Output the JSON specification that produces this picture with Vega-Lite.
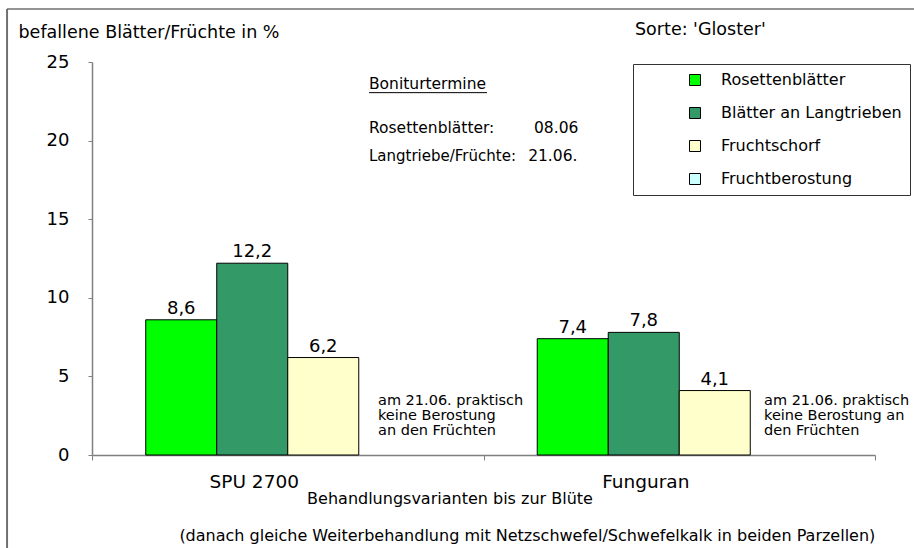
{
  "$schema": "https://vega.github.io/schema/vega-lite/v6.json",
  "width": 783,
  "height": 393,
  "autosize": {"type": "none"},
  "padding": {"left": 92, "top": 62, "right": 39, "bottom": 93},
  "background": "white",
  "config": {
    "font": "DejaVu Sans",
    "view": {"stroke": null},
    "locale": {"number": {"decimal": ",", "thousands": ".", "grouping": [3], "currency": ["", " €"]}}
  },
  "data": {
    "values": [
      {"variante": "SPU 2700", "sorte": "Rosettenblätter", "wert": 8.6},
      {"variante": "SPU 2700", "sorte": "Blätter an Langtrieben", "wert": 12.2},
      {"variante": "SPU 2700", "sorte": "Fruchtschorf", "wert": 6.2},
      {"variante": "SPU 2700", "sorte": "Fruchtberostung", "wert": 0},
      {"variante": "Funguran", "sorte": "Rosettenblätter", "wert": 7.4},
      {"variante": "Funguran", "sorte": "Blätter an Langtrieben", "wert": 7.8},
      {"variante": "Funguran", "sorte": "Fruchtschorf", "wert": 4.1},
      {"variante": "Funguran", "sorte": "Fruchtberostung", "wert": 0}
    ]
  },
  "layer": [
    {
      "transform": [{"filter": "datum.wert > 0"}],
      "mark": {"type": "bar", "stroke": "black", "strokeWidth": 1},
      "encoding": {
        "x": {
          "field": "variante", "type": "nominal", "sort": ["SPU 2700", "Funguran"],
          "scale": {"paddingInner": 0, "paddingOuter": 0},
          "axis": {
            "title": "Behandlungsvarianten bis zur Blüte",
            "titleFontSize": 16, "titleFontWeight": "normal", "titleColor": "black",
            "titleX": 357.5, "titleY": 48.5, "titleAlign": "center", "titleBaseline": "alphabetic",
            "labelAngle": 0, "labelFontSize": 18.5, "labelColor": "black",
            "labelOffset": -34, "labelPadding": 27.5, "labelBaseline": "alphabetic",
            "tickBand": "extent", "tickSize": 5, "tickColor": "#808080",
            "domainColor": "#808080", "domainWidth": 1.5, "grid": false
          }
        },
        "xOffset": {
          "field": "sorte", "type": "nominal",
          "scale": {"domain": ["Rosettenblätter", "Blätter an Langtrieben", "Fruchtschorf", "Fruchtberostung"], "paddingInner": 0, "paddingOuter": 0.757}
        },
        "y": {
          "field": "wert", "type": "quantitative",
          "scale": {"domain": [0, 25], "nice": false, "zero": true},
          "axis": {
            "values": [0, 5, 10, 15, 20, 25],
            "title": "befallene Blätter/Früchte in %",
            "titleAngle": 0, "titleX": -74, "titleY": -25, "titleAlign": "left", "titleBaseline": "alphabetic",
            "titleFontSize": 17.5, "titleFontWeight": "normal", "titleColor": "black",
            "labelFontSize": 18, "labelColor": "black", "labelPadding": 19,
            "tickSize": 4, "tickColor": "#808080", "domainColor": "#808080", "domainWidth": 1.5,
            "grid": false
          }
        },
        "color": {
          "field": "sorte", "type": "nominal",
          "scale": {
            "domain": ["Rosettenblätter", "Blätter an Langtrieben", "Fruchtschorf", "Fruchtberostung"],
            "range": ["#00ff00", "#339966", "#ffffcc", "#ccffff"]
          },
          "legend": {
            "title": null, "orient": "none", "legendX": 541, "legendY": 2,
            "symbolType": "square", "symbolSize": 121, "symbolStrokeColor": "black", "symbolStrokeWidth": 1,
            "labelFontSize": 16, "labelColor": "black", "labelOffset": 18, "labelLimit": 400,
            "rowPadding": 17, "padding": 8, "symbolOffset": 46,
            "strokeColor": "#333333", "fillColor": "white"
          }
        }
      }
    },
    {
      "transform": [{"filter": "datum.wert > 0"}],
      "mark": {"type": "text", "baseline": "alphabetic", "align": "center", "dy": -6, "fontSize": 18, "color": "black"},
      "encoding": {
        "x": {"field": "variante", "type": "nominal", "sort": ["SPU 2700", "Funguran"]},
        "xOffset": {"field": "sorte", "type": "nominal"},
        "y": {"field": "wert", "type": "quantitative"},
        "text": {"field": "wert", "type": "quantitative", "format": ".1f"}
      }
    },
    {
      "data": {"values": [{"t": "am 21.06. praktisch\nkeine Berostung\nan den Früchten"}]},
      "mark": {"type": "text", "align": "left", "baseline": "alphabetic", "fontSize": 14.5, "lineBreak": "\n", "lineHeight": 15, "color": "black"},
      "encoding": {
        "x": {"datum": "SPU 2700", "bandPosition": 0.7305},
        "y": {"datum": 3.18, "type": "quantitative"},
        "text": {"field": "t"}
      }
    },
    {
      "data": {"values": [{"t": "am 21.06. praktisch\nkeine Berostung an\nden Früchten"}]},
      "mark": {"type": "text", "align": "left", "baseline": "alphabetic", "fontSize": 14.5, "lineBreak": "\n", "lineHeight": 15, "color": "black"},
      "encoding": {
        "x": {"datum": "Funguran", "bandPosition": 0.7165},
        "y": {"datum": 3.18, "type": "quantitative"},
        "text": {"field": "t"}
      }
    },
    {
      "data": {"values": [{"t": "Boniturtermine"}]},
      "mark": {"type": "text", "align": "left", "baseline": "alphabetic", "fontSize": 15.5, "color": "black"},
      "encoding": {
        "x": {"datum": "SPU 2700", "bandPosition": 0.7075},
        "y": {"datum": 23.28, "type": "quantitative"},
        "text": {"field": "t"}
      }
    },
    {
      "data": {"values": [{"t": "Rosettenblätter:"}]},
      "mark": {"type": "text", "align": "left", "baseline": "alphabetic", "fontSize": 15.5, "color": "black"},
      "encoding": {
        "x": {"datum": "SPU 2700", "bandPosition": 0.7075},
        "y": {"datum": 20.5, "type": "quantitative"},
        "text": {"field": "t"}
      }
    },
    {
      "data": {"values": [{"t": "Langtriebe/Früchte:"}]},
      "mark": {"type": "text", "align": "left", "baseline": "alphabetic", "fontSize": 15, "color": "black"},
      "encoding": {
        "x": {"datum": "SPU 2700", "bandPosition": 0.7075},
        "y": {"datum": 18.72, "type": "quantitative"},
        "text": {"field": "t"}
      }
    },
    {
      "data": {"values": [{"t": "08.06"}]},
      "mark": {"type": "text", "align": "left", "baseline": "alphabetic", "fontSize": 15.5, "color": "black"},
      "encoding": {
        "x": {"datum": "Funguran", "bandPosition": 0.129},
        "y": {"datum": 20.5, "type": "quantitative"},
        "text": {"field": "t"}
      }
    },
    {
      "data": {"values": [{"t": "21.06."}]},
      "mark": {"type": "text", "align": "left", "baseline": "alphabetic", "fontSize": 15.5, "color": "black"},
      "encoding": {
        "x": {"datum": "Funguran", "bandPosition": 0.114},
        "y": {"datum": 18.72, "type": "quantitative"},
        "text": {"field": "t"}
      }
    },
    {
      "data": {"values": [{"t": "Sorte: 'Gloster'"}]},
      "mark": {"type": "text", "align": "left", "baseline": "alphabetic", "fontSize": 17.5, "color": "black"},
      "encoding": {
        "x": {"datum": "Funguran", "bandPosition": 0.387},
        "y": {"datum": 26.69, "type": "quantitative"},
        "text": {"field": "t"}
      }
    },
    {
      "data": {"values": [{"t": "(danach gleiche Weiterbehandlung mit Netzschwefel/Schwefelkalk in beiden Parzellen)"}]},
      "mark": {"type": "text", "align": "center", "baseline": "alphabetic", "fontSize": 16, "color": "black"},
      "encoding": {
        "x": {"datum": "Funguran", "bandPosition": 0.112},
        "y": {"datum": -5.47, "type": "quantitative"},
        "text": {"field": "t"}
      }
    },
    {
      "data": {"values": [{}]},
      "mark": {"type": "rule", "color": "black", "strokeWidth": 1},
      "encoding": {
        "x": {"datum": "SPU 2700", "bandPosition": 0.7075},
        "x2": {"datum": "Funguran", "bandPosition": 0.009},
        "y": {"datum": 23.05, "type": "quantitative"}
      }
    },
    {
      "data": {"values": [{}]},
      "mark": {"type": "rule", "color": "#707070", "strokeWidth": 2},
      "encoding": {
        "x": {"datum": "SPU 2700", "bandPosition": -0.217},
        "y": {"datum": 28.37, "type": "quantitative"},
        "y2": {"datum": -6.5}
      }
    },
    {
      "data": {"values": [{}]},
      "mark": {"type": "rule", "color": "#707070", "strokeWidth": 1.5},
      "encoding": {
        "x": {"datum": "SPU 2700", "bandPosition": -0.217},
        "x2": {"datum": "Funguran", "bandPosition": 1.2},
        "y": {"datum": 28.37, "type": "quantitative"}
      }
    }
  ]
}
